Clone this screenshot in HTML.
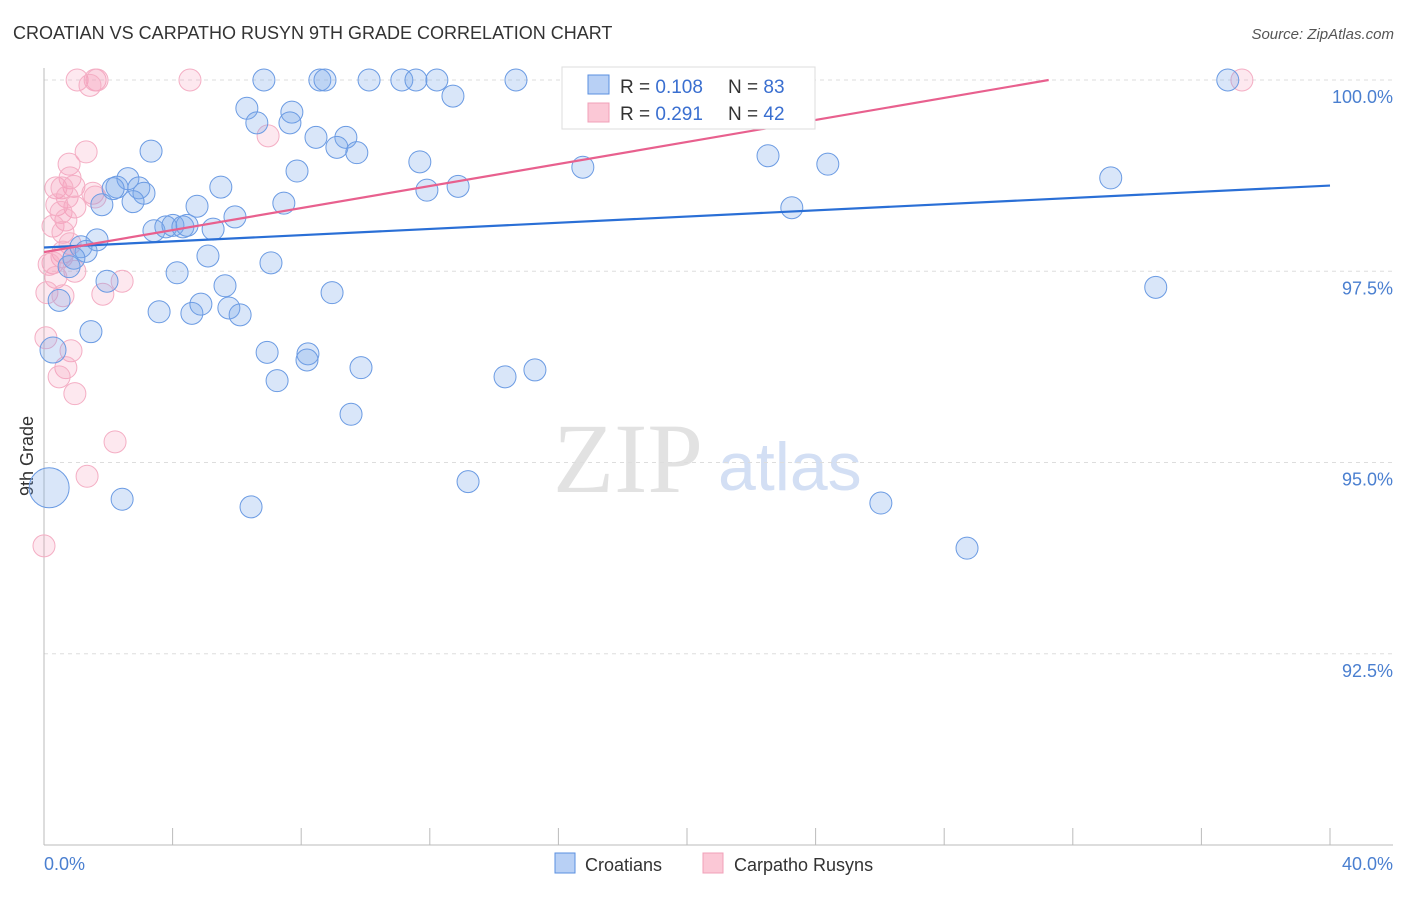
<!DOCTYPE html>
<html><head><meta charset="utf-8"><style>
body{margin:0;background:#fff;font-family:"Liberation Sans",sans-serif;}
</style></head><body>
<svg width="1406" height="892" xmlns="http://www.w3.org/2000/svg">
<text x="13" y="39" font-size="18" fill="#333">CROATIAN VS CARPATHO RUSYN 9TH GRADE CORRELATION CHART</text>
<text x="1394" y="39" font-size="15" fill="#555" font-style="italic" text-anchor="end">Source: ZipAtlas.com</text>
<text x="33" y="456" font-size="18" fill="#333" transform="rotate(-90 33 456)" text-anchor="middle">9th Grade</text>
<text x="553" y="492" font-size="100" fill="#e2e2e2" font-family="Liberation Serif,serif">ZIP</text>
<text x="718" y="490" font-size="68" fill="#d3dff4">atlas</text>
<g id="grid"></g><g id="axes"></g><g id="marks"></g>
<g>
<rect x="562" y="67" width="253" height="62" fill="#fff" stroke="#ddd"/>
<rect x="588" y="75" width="21" height="19" fill="#b8d0f5" stroke="#5a8fe0"/>
<text x="620" y="93" font-size="19" fill="#333">R = <tspan fill="#3a6fd0">0.108</tspan></text>
<text x="728" y="93" font-size="19" fill="#333">N = <tspan fill="#3a6fd0">83</tspan></text>
<rect x="588" y="103" width="21" height="19" fill="#fbc8d6" stroke="#f0a0b8"/>
<text x="620" y="120" font-size="19" fill="#333">R = <tspan fill="#3a6fd0">0.291</tspan></text>
<text x="728" y="120" font-size="19" fill="#333">N = <tspan fill="#3a6fd0">42</tspan></text>
</g>
<rect x="555" y="853" width="20" height="20" fill="#b8d0f5" stroke="#5a8fe0"/>
<text x="585" y="871" font-size="18" fill="#333">Croatians</text>
<rect x="703" y="853" width="20" height="20" fill="#fbc8d6" stroke="#f0a0b8"/>
<text x="734" y="871" font-size="18" fill="#333">Carpatho Rusyns</text>
</svg>
<script>
const blueX=[6.84,8.58,8.74,10.11,11.13,11.57,12.22,14.68,18.04,22.27,36.82,12.72,6.31,7.71,6.62,7.65,8.46,9.39,9.11,9.73,3.33,11.69,16.76,22.52,24.38,7.87,2.61,2.27,2.15,2.95,3.11,5.50,1.80,2.77,7.46,4.76,11.91,12.88,33.18,23.26,5.94,3.42,3.79,4.01,4.32,4.45,5.26,1.65,1.15,1.31,0.93,0.78,5.10,7.06,4.14,1.96,5.63,8.96,0.47,1.46,3.58,4.60,4.88,5.75,6.10,34.58,0.28,6.94,8.21,8.18,9.86,7.25,14.34,15.27,9.55,13.19,2.43,6.44,26.03,28.71,0.16];
const blueY=[100,100,100,100,100,100,100,100,100,100,100,99.79,99.63,99.58,99.44,99.44,99.25,99.25,99.12,99.05,99.07,98.93,98.86,99.01,98.90,98.81,98.71,98.60,98.58,98.59,98.52,98.60,98.37,98.41,98.39,98.35,98.56,98.61,98.72,98.33,98.21,98.03,98.08,98.10,98.08,98.10,98.05,97.91,97.82,97.76,97.67,97.56,97.70,97.61,97.48,97.37,97.31,97.22,97.12,96.71,96.97,96.95,97.07,97.02,96.93,97.29,96.47,96.44,96.42,96.34,96.24,96.07,96.12,96.21,95.63,94.75,94.52,94.42,94.47,93.88,94.67];
const blueR=[11,11,11,11,11,11,11,11,11,11,11,11,11,11,11,11,11,11,11,11,11,11,11,11,11,11,11,11,11,11,11,11,11,11,11,11,11,11,11,11,11,11,11,11,11,11,11,11,11,11,11,11,11,11,11,11,11,11,11,11,11,11,11,11,11,11,13,11,11,11,11,11,11,11,11,11,11,11,11,11,20];
const pinkX=[1.03,1.59,1.65,1.43,4.54,37.26,6.97,1.31,0.78,0.81,0.93,0.37,0.56,1.52,1.59,0.72,0.40,0.96,0.53,0.68,0.28,0.59,0.81,0.59,0.56,0.28,0.16,0.96,0.37,2.43,1.83,0.09,0.59,0.06,0.84,0.68,0.47,0.96,2.21,1.34,0];
const pinkY=[100,100,100,99.93,100,100,99.27,99.06,98.90,98.72,98.61,98.59,98.59,98.52,98.47,98.47,98.37,98.34,98.27,98.17,98.09,98.01,97.86,97.75,97.69,97.61,97.59,97.50,97.42,97.37,97.20,97.22,97.18,96.63,96.46,96.24,96.12,95.90,95.27,94.82,93.91];
const blueLine=[97.81,98.62];
const pinkLine=[97.75,0.072];
const yTicks=[100,97.5,95,92.5];
const yTickLabels=["100.0%","97.5%","95.0%","92.5%"];
const xTickLabels=["0.0%","40.0%"];
const X0=44,X1=1330,Y100=80,PPU=76.5;
const sx=v=>X0+(v/40)*(X1-X0);
const sy=v=>Y100+(100-v)*PPU;
const NS="http://www.w3.org/2000/svg";
function mk(tag,at,parent){const e=document.createElementNS(NS,tag);for(const k in at)e.setAttribute(k,at[k]);document.getElementById(parent).appendChild(e);return e;}
yTicks.forEach((t,i)=>{
 const l=mk('line',{x1:44,x2:1393,y1:sy(t),y2:sy(t),stroke:'#ddd','stroke-dasharray':'4,4'},'grid');
 
 
 const tx=mk('text',{x:1393,y:sy(t)+23,'font-size':18,fill:'#4a7fd0','text-anchor':'end'},'grid');
 tx.textContent=yTickLabels[i];
 
 
});
const ax=mk('line',{x1:44,x2:44,y1:68,y2:845,stroke:'#bbb'},'axes');


const bx=mk('line',{x1:44,x2:1393,y1:845,y2:845,stroke:'#bbb'},'axes');


for(let i=0;i<=10;i++){const t=mk('line',{x1:sx(i*4),x2:sx(i*4),y1:828,y2:845,stroke:'#bbb'},'axes');
 
 }
const xl0=mk('text',{x:44,y:870,'font-size':18,fill:'#4a7fd0'},'axes');xl0.textContent=xTickLabels[0];


const xl1=mk('text',{x:1393,y:870,'font-size':18,fill:'#4a7fd0','text-anchor':'end'},'axes');xl1.textContent=xTickLabels[1];


pinkX.forEach((x,i)=>{const c=mk('circle',{cx:sx(x),cy:sy(pinkY[i]),r:11,fill:'rgba(244,150,180,0.22)',stroke:'#f4aec4','stroke-width':1},'marks');
 
 });
blueX.forEach((x,i)=>{const c=mk('circle',{cx:sx(x),cy:sy(blueY[i]),r:blueR[i],fill:'rgba(120,165,235,0.28)',stroke:'#6b9be3','stroke-width':1},'marks');
 
 });
const bl=mk('line',{x1:sx(0),y1:sy(blueLine[0]),x2:sx(40),y2:sy(blueLine[1]),stroke:'#2a6fd6','stroke-width':2.2},'marks');


const pend=(100-pinkLine[0])/pinkLine[1];
const pl=mk('line',{x1:sx(0),y1:sy(pinkLine[0]),x2:sx(pend),y2:sy(100),stroke:'#e8608e','stroke-width':2.2},'marks');


</script>
</body></html>
